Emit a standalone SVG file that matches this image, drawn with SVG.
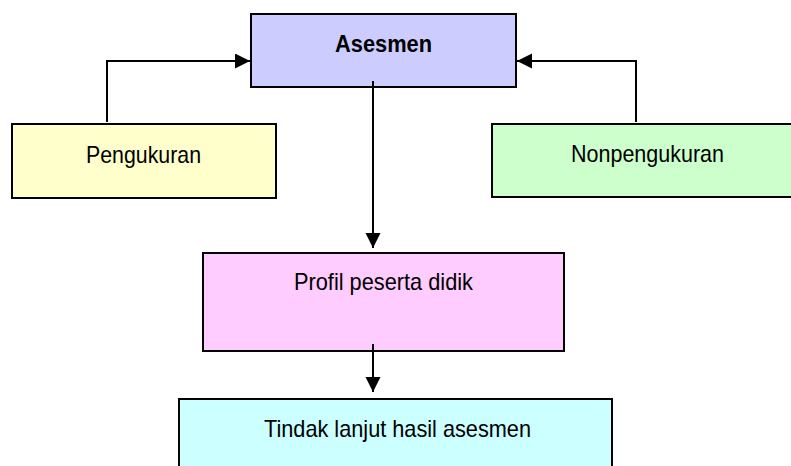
<svg xmlns="http://www.w3.org/2000/svg" width="791" height="466" viewBox="0 0 791 466">
<style>
.box{stroke:#000;stroke-width:2}
.lbl{font-family:"Liberation Sans",Arial,sans-serif;font-size:24px;fill:#000;text-anchor:start}
.conn{fill:none;stroke:#000;stroke-width:2}
</style>
<defs>
<marker id="ah" markerUnits="userSpaceOnUse" markerWidth="16" markerHeight="16" refX="15" refY="7.5" orient="auto">
<path d="M0,0 L15,7.5 L0,15 z" fill="#000"/>
</marker>
</defs>
<rect width="791" height="466" fill="#fff"/>
<g id="asesmen">
<rect class="box" x="251" y="14" width="265" height="73" fill="#CCCCFF"/>
<text class="lbl" x="335" y="52" font-weight="bold" textLength="97" lengthAdjust="spacingAndGlyphs">Asesmen</text>
</g>
<g id="pengukuran">
<rect class="box" x="12" y="124" width="264" height="74" fill="#FFFFCC"/>
<text class="lbl" x="86" y="163" textLength="115" lengthAdjust="spacingAndGlyphs">Pengukuran</text>
</g>
<g id="nonpengukuran">
<rect class="box" x="492" y="124" width="305" height="73" fill="#CCFFCC"/>
<text class="lbl" x="571" y="162" textLength="153" lengthAdjust="spacingAndGlyphs">Nonpengukuran</text>
</g>
<g id="profil">
<rect class="box" x="203" y="253" width="361" height="98" fill="#FFCCFF"/>
<text class="lbl" x="294" y="290" textLength="179" lengthAdjust="spacingAndGlyphs">Profil peserta didik</text>
</g>
<g id="tindak">
<rect class="box" x="179" y="399" width="433" height="75" fill="#CCFFFF"/>
<text class="lbl" x="264" y="437" textLength="267" lengthAdjust="spacingAndGlyphs">Tindak lanjut hasil asesmen</text>
</g>
<g id="connectors">
<path class="conn" d="M107,122 V61 H250" marker-end="url(#ah)"/>
<path class="conn" d="M636,122 V61 H517" marker-end="url(#ah)"/>
<path class="conn" d="M373,81 V248" marker-end="url(#ah)"/>
<path class="conn" d="M373,344 V392" marker-end="url(#ah)"/>
</g>
</svg>
